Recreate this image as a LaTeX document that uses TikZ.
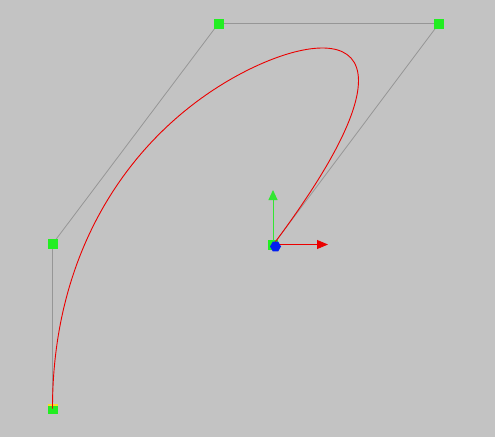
\documentclass[tikz,border=0pt]{standalone}
\usetikzlibrary{arrows.meta,shapes.geometric}
\definecolor{bg}{RGB}{195,195,195}
\definecolor{polygray}{RGB}{150,150,150}
\definecolor{ptgreen}{RGB}{34,238,34}
\definecolor{curvered}{RGB}{235,0,0}
\definecolor{axgreen}{RGB}{50,230,50}
\definecolor{ptblue}{RGB}{0,30,240}
\definecolor{ptyellow}{RGB}{250,220,40}
\begin{document}
\begin{tikzpicture}[x=1pt,y=-1pt,
  ctrl/.style={draw=none,fill=ptgreen,minimum size=10pt,inner sep=0pt,outer sep=0pt},
  poly/.style={draw=polygray,line width=0.8pt},
  crv/.style={draw=curvered,line width=0.9pt}]
\fill[bg] (0,0) rectangle (495,437);
\useasboundingbox (0,0) rectangle (495,437);
\coordinate (P0) at (52.5,408.5);
\coordinate (P1) at (52.5,244);
\coordinate (P2) at (218.5,23.5);
\coordinate (P3) at (439,23.5);
\coordinate (P4) at (273,245);
\draw[poly] (P0) -- (P1) -- (P2) -- (P3) -- (P4);
\node[ctrl] (n0) at (P0) {};
\node[ctrl] (n1) at (P1) {};
\node[ctrl] (n2) at (P2) {};
\node[ctrl] (n3) at (P3) {};
\node[ctrl] (n4) at (P4) {};
\draw[ptyellow,line width=2.5pt] ([yshift=-1.5pt]n0.north west) -- ([yshift=-1.5pt]n0.north east);
\draw[crv] (P0) .. controls (52.5,244) and (135.5,133.5) .. (232,78.5)
  .. controls (328.75,23.5) and (439,23.5) .. (P4);
\coordinate (ax) at (273,244.5);
\coordinate (axup) at (273,190);
\coordinate (axright) at (328,244.5);
\draw[axgreen,line width=0.9pt,-{Triangle[width=9pt,length=10pt]}] (ax) -- (axup);
\draw[curvered,line width=0.9pt,-{Triangle[width=9pt,length=11pt]}] (ax) -- (axright);
\node[regular polygon,regular polygon sides=6,fill=ptblue,minimum size=11pt,inner sep=0pt] (bp) at (275.5,246.5) {};
\end{tikzpicture}
\end{document}
